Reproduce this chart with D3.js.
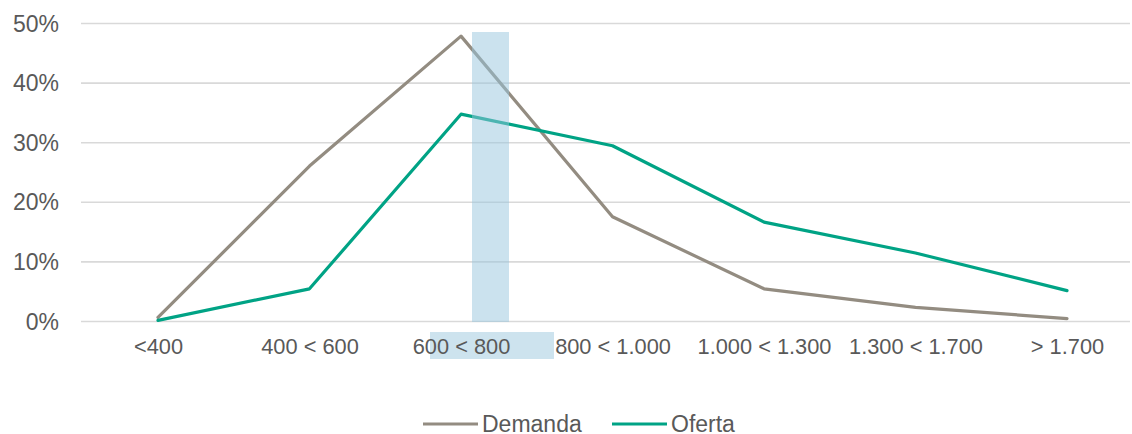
<!DOCTYPE html>
<html>
<head>
<meta charset="utf-8">
<script src="https://cdn.jsdelivr.net/npm/d3@7"></script>
<style>
  html, body { margin: 0; padding: 0; background: #fff; }
  svg { display: block; font-family: "Liberation Sans", Arial, sans-serif; }
</style>
</head>
<body>
<svg id="chart" width="1132" height="434"></svg>
<script>
// Price ranges (€/month) and share of demand / supply in each range
const categories = ["<400", "400 < 600", "600 < 800", "800 < 1.000", "1.000 < 1.300", "1.300 < 1.700", "> 1.700"];
const demanda = [0.006, 0.26, 0.478, 0.175, 0.054, 0.023, 0.004];
const oferta  = [0.001, 0.054, 0.347, 0.294, 0.166, 0.114, 0.051];
const yTicks = [0, 0.1, 0.2, 0.3, 0.4, 0.5];
const seriesNames = ["Demanda", "Oferta"];
const highlighted = "600 < 800";

const colors = { Demanda: "#938c81", Oferta: "#00a385" };
const textColor = "#595959";

const svg = d3.select("#chart");
const plot = { left: 81, right: 1130, top: 23, bottom: 321 };

const x = d3.scalePoint()
  .domain(categories)
  .range([158, 1067]);

const y = d3.scaleLinear()
  .domain([0, 0.5])
  .range([plot.bottom, plot.top]);

// Horizontal gridlines and percentage labels
const yAxis = d3.axisLeft(y)
  .tickValues(yTicks)
  .tickFormat(d3.format(".0%"))
  .tickSize(-(plot.right - plot.left))
  .tickPadding(22);

const gy = svg.append("g")
  .attr("transform", `translate(${plot.left},0)`)
  .call(yAxis);
gy.select(".domain").remove();
gy.selectAll(".tick line").attr("stroke", "#d9d9d9").attr("stroke-width", 1.6);
gy.selectAll(".tick text")
  .attr("fill", textColor)
  .style("font-size", "23px")
  .attr("dy", "0.35em");

// Category labels
const xAxis = d3.axisBottom(x).tickSize(0).tickPadding(18);

// Soft highlight behind the selected range label
const hx = x(highlighted);
svg.append("rect")
  .attr("x", hx - 31)
  .attr("y", 332)
  .attr("width", 124)
  .attr("height", 27)
  .attr("fill", "#cde3ee");

const gx = svg.append("g")
  .attr("transform", `translate(0,${plot.bottom})`)
  .call(xAxis);
gx.select(".domain").remove();
gx.selectAll(".tick text")
  .attr("fill", textColor)
  .style("font-size", "21.8px");

// Series lines
const line = d3.line()
  .x((d, i) => x(categories[i]))
  .y(d => y(d));

[["Demanda", demanda], ["Oferta", oferta]].forEach(([name, vals]) => {
  svg.append("path")
    .datum(vals)
    .attr("fill", "none")
    .attr("stroke", colors[name])
    .attr("stroke-width", 3.2)
    .attr("stroke-linejoin", "round")
    .attr("stroke-linecap", "round")
    .attr("d", line);
});

// Translucent band marking the selected range
svg.append("rect")
  .attr("x", hx + 11)
  .attr("y", 32)
  .attr("width", 37)
  .attr("height", plot.bottom - 32 + 1)
  .attr("fill", "#98c6dd")
  .attr("fill-opacity", 0.5);

// Legend
const legend = svg.append("g");
const legendItems = [
  { name: seriesNames[0], x0: 423 },
  { name: seriesNames[1], x0: 612 }
];
legendItems.forEach(it => {
  legend.append("line")
    .attr("x1", it.x0).attr("x2", it.x0 + 55)
    .attr("y1", 424).attr("y2", 424)
    .attr("stroke", colors[it.name])
    .attr("stroke-width", 3.2);
  legend.append("text")
    .attr("x", it.x0 + 59)
    .attr("y", 423.5)
    .attr("dy", "0.36em")
    .attr("fill", textColor)
    .style("font-size", "23px")
    .text(it.name);
});
</script>
</body>
</html>
